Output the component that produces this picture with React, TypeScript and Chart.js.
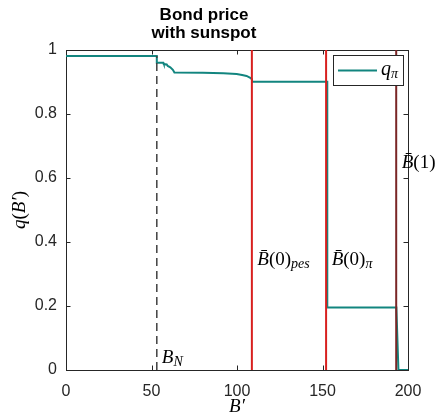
import React, { useEffect, useRef } from 'react';
import { Chart, registerables } from 'chart.js';

Chart.register(...registerables);

// Bond price schedule q_pi(B') on the debt grid
const debtGrid = [0, 53.1, 53.1, 56.9, 57.2, 58.9, 59.5, 61, 62.5, 63.4, 80, 92, 99.8, 103, 105.6, 107.5, 108.7, 108.9, 152.8, 152.8, 193.2, 194.4, 200];
const bondPrice = [0.981, 0.981, 0.96, 0.96, 0.956, 0.955, 0.95, 0.946, 0.938, 0.93, 0.929, 0.927, 0.925, 0.922, 0.919, 0.914, 0.909, 0.901, 0.901, 0.195, 0.195, 0, 0];

// Debt thresholds
const bNatural = 53.1;
const bPessimistic = 108.7;
const bPi = 152.1;
const bOne = 193.1;

const xTicks = [0, 50, 100, 150, 200];
const yTicks = [0, 0.2, 0.4, 0.6, 0.8, 1];

const titleLines = ['Bond price', 'with sunspot'];
const seriesName = 'q_π';

const SERIF = "'Liberation Serif', 'Times New Roman', serif";
const SANS = "'Liberation Sans', Arial, Helvetica, sans-serif";
const AXIS_COLOR = '#262626';
const TEAL = '#12857f';
const RED = '#d8201f';
const MAROON = '#7a2626';

type Part = { t: string; it?: boolean; sz: number; dy?: number };

function drawRich(ctx: CanvasRenderingContext2D, parts: Part[], x: number, y: number, align: 'left' | 'center' = 'left') {
  ctx.save();
  ctx.textBaseline = 'alphabetic';
  ctx.textAlign = 'left';
  ctx.fillStyle = '#000';
  const font = (p: Part) => `${p.it ? 'italic ' : ''}${p.sz}px ${SERIF}`;
  let w = 0;
  for (const p of parts) {
    ctx.font = font(p);
    w += ctx.measureText(p.t).width;
  }
  let cx = align === 'center' ? x - w / 2 : x;
  for (const p of parts) {
    ctx.font = font(p);
    ctx.fillText(p.t, cx, y + (p.dy || 0));
    cx += ctx.measureText(p.t).width;
  }
  ctx.restore();
}

const BBAR = 'B\u0304';

const axesFrame = {
  id: 'axesFrame',
  beforeDatasetsDraw(chart: any) {
    const { ctx, chartArea: a, scales } = chart;
    const tl = 4.5;
    ctx.save();
    ctx.strokeStyle = AXIS_COLOR;
    ctx.lineWidth = 1;
    ctx.beginPath();
    for (const v of xTicks) {
      const px = Math.round(scales.x.getPixelForValue(v)) + 0.5;
      ctx.moveTo(px, a.bottom);
      ctx.lineTo(px, a.bottom - tl);
      ctx.moveTo(px, a.top);
      ctx.lineTo(px, a.top + tl);
    }
    for (const v of yTicks) {
      const py = Math.round(scales.y.getPixelForValue(v)) + 0.5;
      ctx.moveTo(a.left, py);
      ctx.lineTo(a.left + tl, py);
      ctx.moveTo(a.right, py);
      ctx.lineTo(a.right - tl, py);
    }
    ctx.stroke();
    ctx.strokeRect(Math.round(a.left) + 0.5, Math.round(a.top) + 0.5, Math.round(a.right - a.left), Math.round(a.bottom - a.top));
    ctx.restore();
  },
  afterDraw(chart: any) {
    const { ctx, chartArea: a, scales } = chart;
    const xs = scales.x;
    const ys = scales.y;
    // threshold annotations
    const yLab = ys.getPixelForValue(0.328);
    drawRich(ctx, [{ t: BBAR, it: true, sz: 19 }, { t: '(0)', sz: 19 }, { t: 'pes', it: true, sz: 14, dy: 3 }], xs.getPixelForValue(bPessimistic) + 5.4, yLab);
    drawRich(ctx, [{ t: BBAR, it: true, sz: 19 }, { t: '(0)', sz: 19 }, { t: 'π', it: true, sz: 14, dy: 3 }], xs.getPixelForValue(bPi) + 5.6, yLab);
    drawRich(ctx, [{ t: BBAR, it: true, sz: 19 }, { t: '(1)', sz: 19 }], xs.getPixelForValue(bOne) + 5.5, ys.getPixelForValue(0.63));
    drawRich(ctx, [{ t: 'B', it: true, sz: 19 }, { t: 'N', it: true, sz: 14, dy: 3 }], xs.getPixelForValue(bNatural) + 5, ys.getPixelForValue(0.022));

    // axis titles
    const cx = (a.left + a.right) / 2;
    drawRich(ctx, [{ t: 'B′', it: true, sz: 19 }], cx, 412, 'center');
    ctx.save();
    ctx.translate(25, (a.top + a.bottom) / 2);
    ctx.rotate(-Math.PI / 2);
    drawRich(ctx, [{ t: 'q', it: true, sz: 19 }, { t: '(', sz: 19 }, { t: 'B′', it: true, sz: 19 }, { t: ')', sz: 19 }], 0, 0, 'center');
    ctx.restore();

    // legend
    const lw = 70;
    const lh = 30;
    const lx = a.right - 5 - lw;
    const ly = a.top + 5;
    ctx.save();
    ctx.fillStyle = '#fff';
    ctx.fillRect(lx, ly, lw, lh);
    ctx.strokeStyle = AXIS_COLOR;
    ctx.lineWidth = 1;
    ctx.strokeRect(Math.round(lx) + 0.5, Math.round(ly) + 0.5, lw, lh);
    ctx.strokeStyle = TEAL;
    ctx.lineWidth = 2;
    ctx.beginPath();
    ctx.moveTo(lx + 5, ly + 15.5);
    ctx.lineTo(lx + 44, ly + 15.5);
    ctx.stroke();
    ctx.restore();
    const [main, sub] = seriesName.split('_');
    drawRich(ctx, [{ t: main, it: true, sz: 20 }, { t: sub, it: true, sz: 14, dy: 3 }], lx + 48, ly + 20);
  },
};

export default function App() {
  const canvasRef = useRef<HTMLCanvasElement | null>(null);

  useEffect(() => {
    const canvas = canvasRef.current;
    if (!canvas) return;
    const vline = (x: number, top: number, color: string, dash: number[] = [], width = 2) => ({
      label: '',
      data: [{ x, y: 0 }, { x, y: top }],
      borderColor: color,
      borderWidth: width,
      borderDash: dash,
      pointRadius: 0,
      order: 1,
    });
    const chart = new Chart(canvas, {
      type: 'line',
      data: {
        datasets: [
          {
            label: seriesName,
            data: debtGrid.map((x, i) => ({ x, y: bondPrice[i] })),
            borderColor: TEAL,
            borderWidth: 2,
            pointRadius: 0,
            tension: 0,
            order: 5,
          },
          vline(bNatural, 0.981, '#404040', [8, 5], 1.5),
          vline(bPessimistic, 1, RED),
          vline(bPi, 1, RED),
          vline(bOne, 1, MAROON),
        ],
      },
      options: {
        responsive: false,
        animation: false,
        devicePixelRatio: 1,
        layout: { padding: { left: 0, right: 30, top: 0, bottom: 0 } },
        plugins: {
          legend: { display: false },
          tooltip: { enabled: false },
          title: {
            display: true,
            text: titleLines,
            color: '#000',
            font: { family: SANS, size: 17, weight: 'bold', lineHeight: 18.3 / 17 },
            padding: { top: 6.2, bottom: 7.2 },
          },
        },
        scales: {
          x: {
            type: 'linear',
            min: 0,
            max: 200,
            grid: { display: false, drawTicks: false },
            border: { display: false },
            ticks: {
              stepSize: 50,
              padding: 12,
              color: AXIS_COLOR,
              font: { family: SANS, size: 16 },
            },
            afterFit: (s: any) => {
              s.height = 46;
            },
          },
          y: {
            type: 'linear',
            min: 0,
            max: 1,
            grid: { display: false, drawTicks: false },
            border: { display: false },
            ticks: {
              stepSize: 0.2,
              padding: 9,
              color: AXIS_COLOR,
              font: { family: SANS, size: 16 },
              callback: (v: any) => String(Number(Number(v).toFixed(1))),
            },
            afterFit: (s: any) => {
              s.width = 66;
            },
          },
        },
      },
      plugins: [axesFrame],
    } as any);
    return () => chart.destroy();
  }, []);

  return (
    <div style={{ position: 'absolute', left: 0, top: 0, width: 438, height: 416, background: '#fff' }}>
      <canvas ref={canvasRef} width={438} height={416} style={{ display: 'block' }} />
    </div>
  );
}
